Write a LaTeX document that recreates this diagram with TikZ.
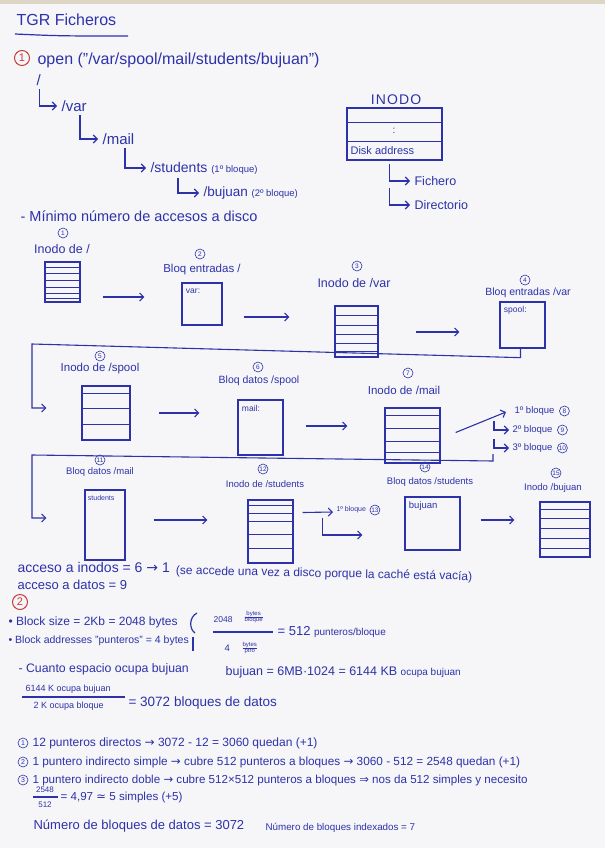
\documentclass[tikz,border=0pt]{standalone}
\usepackage{fontspec}
\setmainfont{Liberation Sans}
\newfontfamily\symf{DejaVu Sans}
\usetikzlibrary{calc,arrows.meta}
\definecolor{ink}{RGB}{45,50,170}
\definecolor{redink}{RGB}{200,60,60}
\definecolor{paper}{RGB}{246,246,248}
\definecolor{edge}{RGB}{222,214,196}
\newcommand\fs[1]{\fontsize{#1}{#1}\selectfont}
\newcommand\mfr[2]{{\renewcommand\arraystretch{0.75}\setlength\tabcolsep{0pt}\setlength\arrayrulewidth{0.5pt}\begin{tabular}{c}#1\\\hline #2\end{tabular}}}
\newcommand\ilines[2]{\foreach \q in {#2} \draw[line width=0.8pt] ($(#1.north west)!\q!(#1.south west)$) -- ($(#1.north east)!\q!(#1.south east)$);}
\begin{document}
\begin{tikzpicture}[x=1pt,y=-1pt,color=ink,line width=1.2pt,
  tx/.style={anchor=west, inner sep=0pt, font=\fs{#1}}, tx/.default=12,
  lab/.style={inner sep=0pt, font=\fs{#1}}, lab/.default=11,
  cn/.style={circle, draw, line width=0.6pt, inner sep=0pt, minimum size=10pt, font=\fs{6.5}},
  rcn/.style={circle, draw=redink, text=redink, line width=1pt, inner sep=0pt, minimum size=15pt, font=\fs{11}},
  ibox/.style={draw, line width=1.3pt, inner sep=0pt},
  arr/.style={-{Straight Barb[length=4pt,width=8pt]}, line width=1.1pt}]
\fill[paper] (0,0) rectangle (605,848);
\fill[edge] (0,0) rectangle (605,4);
\useasboundingbox (0,0) rectangle (605,848);

% Title
\node[tx=16] (title) at (16,20) {TGR Ficheros};
\draw[line width=1.2pt] (15,34) .. controls (60,36) .. (128,36);

% Section 1
\node[rcn] (s1) at (22,58) {1};
\node[tx=16] (open) at (37,60) {open ("/var/spool/mail/students/bujuan")};
\node[tx=15] (root) at (36,80) {/};
\node[tx=15] (var) at (61,106) {/var};
\node[tx=15] (mail) at (102,139) {/mail};
\node[tx=14] (stud) at (150,168) {/students {\fs{9.5}(1º bloque)}};
\node[tx=13.5] (buj) at (203,193) {/bujuan {\fs{9.5}(2º bloque)}};
\draw[arr, shorten >=4pt] ($(root.south)+(1,3)$) |- (var.west);
\draw[arr, shorten >=4pt] ($(var.south west)+(19,3)$) |- (mail.west);
\draw[arr, shorten >=4pt] ($(mail.south west)+(23,3)$) |- (stud.west);
\draw[arr, shorten >=4pt] ($(stud.south west)+(28,3)$) |- (buj.west);
\node[tx=14.5] (minimo) at (20,216) {- Mínimo número de accesos a disco};

% INODO
\node[lab=14] (inodoT) at (396,100) {\addfontfeature{LetterSpace=8}INODO};
\node[ibox, minimum width=95pt, minimum height=52pt] (inodo) at (394.5,134) {};
\ilines{inodo}{0.29,0.64}
\node[lab=10] (dots) at (394,131) {:};
\node[tx=11] (disk) at (350,151) {Disk address};
\node[tx=12.5] (fich) at (414,181) {Fichero};
\node[tx=12.5] (dir) at (414,205) {Directorio};
\draw[arr, shorten >=4pt] ($(inodo.south)+(-5,3)$) |- (fich.west);
\draw[arr, shorten >=4pt] ($(inodo.south)+(-5,27)$) |- (dir.west);

% Row 1
\node[cn] (c1) at (63,233) {1};
\node[lab=12.5] (l1) at (62,249) {Inodo de /};
\node[ibox, minimum width=35pt, minimum height=40pt] (n1) at (62.5,282) {};
\ilines{n1}{0.14,0.3,0.46,0.62,0.78,0.9}
\node[cn] (c2) at (200,254) {2};
\node[lab=11.5] (l2) at (202,270) {Bloq entradas /};
\node[ibox, minimum width=40pt, minimum height=42pt] (b2) at (202,304) {};
\node[tx=8.5] (b2t) at ($(b2.north west)+(4,9)$) {var:};
\node[cn] (c3) at (357,266) {3};
\node[lab=12.5] (l3) at (354,283) {Inodo de /var};
\node[ibox, minimum width=43pt, minimum height=51pt] (n3) at (356.5,331.5) {};
\ilines{n3}{0.2,0.38,0.56,0.73,0.88}
\node[cn] (c4) at (525,280) {4};
\node[lab=10.5] (l4) at (528,293) {Bloq entradas /var};
\node[ibox, minimum width=45pt, minimum height=46pt] (b4) at (522.5,325) {};
\node[tx=8.5] (b4t) at ($(b4.north west)+(4,9)$) {spool:};

% Row 2
\node[cn] (c5) at (100,356) {5};
\node[lab=11.5] (l5) at (100,369) {Inodo de /spool};
\node[ibox, minimum width=48pt, minimum height=54pt] (n5) at (106,413) {};
\ilines{n5}{0.15,0.42,0.7}
\node[cn] (c6) at (258,367) {6};
\node[lab=10.5] (l6) at (259,381) {Bloq datos /spool};
\node[ibox, minimum width=45pt, minimum height=55pt] (b6) at (260.5,427.5) {};
\node[tx=8.5] (b6t) at ($(b6.north west)+(4,9)$) {mail:};
\node[cn] (c7) at (408,373) {7};
\node[lab=11.5] (l7) at (404,390) {Inodo de /mail};
\node[ibox, minimum width=55pt, minimum height=55pt] (n7) at (412.5,435.5) {};
\ilines{n7}{0.14,0.38,0.6,0.8}
\node[tx=9.5] (bl1) at (514,411) {1º bloque};
\node[cn, anchor=west] (c8) at ($(bl1.east)+(4,0)$) {8};
\node[tx=9.5] (bl2) at (512,430) {2º bloque};
\node[cn, anchor=west] (c9) at ($(bl2.east)+(4,0)$) {9};
\node[tx=9.5] (bl3) at (512,448) {3º bloque};
\node[cn, anchor=west] (c10) at ($(bl3.east)+(4,0)$) {10};

% Row 3
\node[cn] (c11) at (100,460) {11};
\node[lab=9.5] (l11) at (100,472) {Bloq datos /mail};
\node[ibox, minimum width=40pt, minimum height=70pt] (b11) at (105,525) {};
\node[tx=7] (b11t) at ($(b11.north west)+(3,9)$) {students};
\node[cn] (c12) at (263,469) {12};
\node[lab=9.5] (l12) at (265,484) {Inodo de /students};
\node[ibox, minimum width=45pt, minimum height=63pt] (n12) at (270.5,531.5) {};
\ilines{n12}{0.1,0.22,0.34,0.55,0.77}
\node[tx=7] (bl13) at (336,510) {1º bloque};
\node[cn, anchor=west] (c13) at ($(bl13.east)+(3,0)$) {13};
\node[cn] (c14) at (425,467) {14};
\node[lab=9.5] (l14) at (430,482) {Bloq datos /students};
\node[ibox, minimum width=55pt, minimum height=53pt] (b14) at (432.5,523.5) {};
\node[tx=9.5] (b14t) at ($(b14.north west)+(4,10)$) {bujuan};
\node[cn] (c15) at (556,473) {15};
\node[lab=9.5] (l15) at (553,488) {Inodo /bujuan};
\node[ibox, minimum width=50pt, minimum height=55pt] (n15) at (565,529.5) {};
\ilines{n15}{0.15,0.3,0.48,0.66,0.83}

% Arrows
\draw[arr, shorten <=22pt, shorten >=37pt] ($(n1.east)+(0,15)$) -- ($(b2.west)+(0,-7)$);
\draw[arr, shorten <=21pt, shorten >=45pt] ($(b2.east)+(0,13)$) -- ($(n3.west)+(0,-14.5)$);
\draw[arr, shorten <=37pt, shorten >=40pt] ($(n3.east)+(0,0.5)$) -- ($(b4.west)+(0,7)$);
\draw[arr] ($(b4.south)+(-2,0)$) -- ++(0,9) -- (32,344) -- (32,408) -- ($(n5.west)+(-35,-5)$);
\draw[arr, shorten <=28pt, shorten >=38pt] ($(n5.east)+(0,0)$) -- ($(b6.west)+(0,-14.5)$);
\draw[arr, shorten <=22pt, shorten >=37pt] ($(b6.east)+(0,-1.5)$) -- ($(n7.west)+(0,-9.5)$);
\draw[arr] ($(n7.east)+(15,-3)$) -- ($(bl1.west)+(-8,1)$);
\draw[arr, shorten >=3pt] ($(bl2.west)+(-18,-9)$) |- (bl2.west);
\draw[arr, shorten >=3pt] ($(bl3.west)+(-18,-9)$) |- (bl3.west);
\draw[arr] ($(bl3.west)+(-19,6)$) -- ++(0,7) -- (32,455) -- (32,518) -- ($(b11.west)+(-38,-7)$);
\draw[arr, shorten <=28pt, shorten >=40pt] ($(b11.east)+(0,-5)$) -- ($(n12.west)+(0,-11.5)$);
\draw[arr] ($(n12.east)+(9,-19)$) -- ($(bl13.west)+(-3,2)$);
\draw[arr] ($(n12.east)+(29,-14)$) |- ($(b14.west)+(-42,11.5)$);
\draw[arr, shorten <=20pt, shorten >=25pt] ($(b14.east)+(0,-3.5)$) -- ($(n15.west)+(0,-9.5)$);

% Access summary
\node[tx=14] (acc1) at (17,567) {acceso a inodos = 6 {\symf→} 1};
\node[tx=12, rotate=-1.2, anchor=west] (acc1b) at ($(acc1.east)+(5,4)$) {(se accede una vez a disco porque la caché está vacía)};
\node[tx=13] (acc2) at (17,585) {acceso a datos = 9};

% Section 2
\node[rcn] (s2) at (20,602) {2};
\node[tx=12] (bs) at (8,622) {• Block size = 2Kb = 2048 bytes};
\node[tx=10.5] (ba) at (8,641) {• Block addresses "punteros" = 4 bytes};
\draw (197,613) .. controls (189,617) and (189,629) .. (195,633);
\draw (193,637) -- (193,651);
\node[tx=8.5] (f1n) at (213,620) {2048};
\node[anchor=west, inner sep=0pt, font=\fs{6}] (f1nu) at (244,617) {\mfr{bytes}{bloque}};
\draw (213,632) -- (273,632);
\node[tx=9.5] (f1d) at (224,648) {4};
\node[anchor=west, inner sep=0pt, font=\fs{6}] (f1du) at (242,648) {\mfr{bytes}{ptro}};
\node[tx=13] (eq512) at (277,632) {= 512 {\fs{10}punteros/bloque}};
\node[tx=12.3] (cuanto) at (18,669) {- Cuanto espacio ocupa bujuan};
\node[tx=12.5] (bujmb) at (225,672) {bujuan = 6MB·1024 = 6144 KB {\fs{10}ocupa bujuan}};
\node[tx=9] (f2n) at (25,689) {6144 K ocupa bujuan};
\draw (22,697) -- (125,697);
\node[tx=9] (f2d) at (33,706) {2 K ocupa bloque};
\node[tx=13.5] (f2r) at (128,703) {= 3072 bloques de datos};

\node[cn, minimum size=10pt, font=\fs{7}] (i1) at (23,743) {1};
\node[tx=12] (it1) at (32,743) {12 punteros directos {\symf→} 3072 - 12 = 3060 quedan (+1)};
\node[cn, minimum size=10pt, font=\fs{7}] (i2) at (23,762) {2};
\node[tx=11.8] (it2) at (32,762) {1 puntero indirecto simple {\symf→} cubre 512 punteros a bloques {\symf→} 3060 - 512 = 2548 quedan (+1)};
\node[cn, minimum size=10pt, font=\fs{7}] (i3) at (23,780) {3};
\node[tx=11.6] (it3) at (32,780) {1 puntero indirecto doble {\symf→} cubre 512×512 punteros a bloques {\symf⇒} nos da 512 simples y necesito};
\node[lab=8] (f3n) at (45,790) {2548};
\draw (33,797) -- (58,797);
\node[lab=8] (f3d) at (45,805) {512};
\node[tx=11.6] (f3r) at (60,797) {= 4,97 {\symf≃} 5 simples (+5)};

\node[tx=13] (nbd) at (33,826) {Número de bloques de datos = 3072};
\node[tx=9.8] (nbi) at (265,828) {Número de bloques indexados = 7};
\end{tikzpicture}
\end{document}
